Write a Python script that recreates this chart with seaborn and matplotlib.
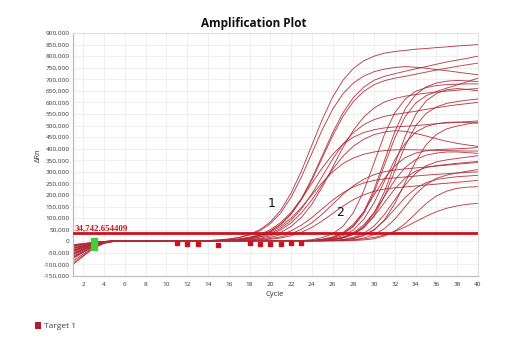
import matplotlib
matplotlib.use("Agg")
import matplotlib.pyplot as plt
import seaborn as sns
import pandas as pd
from matplotlib.ticker import FuncFormatter, FixedLocator
from matplotlib.patches import Patch

# ---------------- data (ΔRn in thousands, cycles 1..40) ----------------
cycles = list(range(1, 41))

well_01 = [-95, -60, -28, -8, 0, 2, 3, 3, 3, 3, 3, 3, 3, 3,
           6, 10, 17, 30, 50, 83, 134, 208, 304, 415, 526, 623, 696, 747, 780, 800,
           813, 820, 825, 830, 833, 837, 840, 844, 847, 850]
well_02 = [-70, -45, -20, -5, 1, 3, 3, 3, 3, 3, 3, 3, 3, 3,
           5, 9, 16, 27, 46, 76, 122, 190, 278, 380, 482, 570, 638, 684, 714, 733,
           744, 751, 755, 752, 748, 742, 737, 731, 725, 720]
well_03 = [-55, -35, -15, -4, 1, 3, 3, 3, 3, 3, 3, 3, 3, 3, 3,
           5, 9, 16, 27, 44, 74, 119, 185, 271, 370, 469, 555, 621, 666, 696,
           713, 724, 735, 745, 755, 765, 775, 783, 791, 800]
well_04 = [-40, -25, -12, -3, 1, 3, 3, 3, 3, 3, 3, 3, 3, 3, 3,
           5, 9, 15, 26, 43, 72, 116, 180, 264, 360, 456, 540, 604, 648, 677,
           694, 705, 713, 722, 731, 740, 748, 756, 763, 770]
well_05 = [-30, -20, -9, -2, 1, 3, 3, 3, 3, 3, 3, 3, 3, 3, 3, 3,
           4, 8, 13, 23, 38, 64, 103, 160, 234, 320, 406, 480, 537, 576,
           602, 617, 627, 634, 640, 645, 649, 653, 657, 660]
well_06 = [-20, -14, -6, -1, 1, 3, 3, 3, 3, 3, 3, 3, 3, 3, 3,
           4, 7, 12, 20, 34, 56, 90, 140, 205, 280, 355, 420, 470, 504, 526,
           540, 548, 555, 562, 570, 577, 584, 590, 595, 600]
well_07 = [-60, -38, -17, -4, 1, 3, 3, 3, 3, 3, 3, 3, 3, 3,
           4, 6, 11, 18, 30, 50, 81, 125, 183, 250, 317, 375, 420, 450, 470, 482,
           490, 494, 497, 500, 504, 508, 511, 514, 517, 520]
well_08 = [-75, -48, -22, -6, 1, 3, 3, 3, 3, 3, 3, 3, 3, 3, 3,
           3, 6, 10, 18, 29, 49, 79, 123, 179, 245, 311, 368, 411, 441, 461,
           472, 478, 475, 466, 455, 443, 432, 423, 416, 410]
well_09 = [-15, -10, -5, -1, 2, 2, 2, 2, 2, 2, 2, 2, 2, 2,
           3, 5, 8, 14, 24, 40, 64, 100, 146, 200, 254, 300, 336, 360, 376, 386,
           392, 395, 396, 395, 394, 393, 392, 391, 390, 390]
well_10 = [-40, -25, -12, -3, 1, 3, 3, 3, 3, 3, 3, 3, 3, 3, 3, 3,
           4, 5, 7, 12, 19, 32, 52, 80, 117, 160, 203, 240, 268, 288,
           301, 308, 313, 317, 321, 325, 329, 333, 337, 340]
well_11 = [-30, -20, -9, -2, 1, 2, 2, 2, 2, 2, 2, 2, 2, 2, 2,
           2, 3, 6, 10, 17, 28, 45, 70, 102, 140, 178, 210, 235, 252, 263,
           270, 274, 278, 282, 286, 289, 292, 295, 298, 300]
well_12 = [-20, -14, -6, -1, 1, 2, 2, 2, 2, 2, 2, 2, 2, 2, 2, 2, 2,
           3, 5, 9, 14, 24, 39, 60, 88, 120, 152, 180, 201, 216,
           226, 231, 235, 239, 243, 247, 251, 255, 259, 263]
well_13 = [-100, -65, -30, -9, 0, 3, 3, 3, 3, 3, 3, 3, 3, 3, 3, 3, 3, 3, 3, 3, 3, 3, 3, 3,
           8, 16, 33, 67, 127, 225, 350, 475, 573, 634, 667, 684, 692, 695, 693, 690]
well_14 = [-70, -45, -20, -5, 1, 3, 3, 3, 3, 3, 3, 3, 3, 3, 3, 3, 3, 3, 3, 3, 3, 3, 3,
           7, 16, 32, 65, 124, 218, 340, 462, 556, 615, 648, 664, 673, 677, 679, 680, 680]
well_15 = [-55, -35, -15, -4, 1, 2, 2, 2, 2, 2, 2, 2, 2, 2, 2, 2, 2, 2, 2, 2, 2, 2, 2, 2, 2,
           7, 15, 31, 64, 122, 215, 335, 455, 548, 606, 639, 655, 660, 656, 650]
well_16 = [-40, -25, -12, -3, 1, 3, 3, 3, 3, 3, 3, 3, 3, 3, 3, 3, 3, 3, 3, 3, 3, 3, 3, 3,
           7, 15, 31, 63, 120, 212, 330, 448, 540, 597, 629, 647, 662, 676, 690, 705]
well_17 = [-30, -20, -9, -2, 1, 3, 3, 3, 3, 3, 3, 3, 3, 3, 3, 3, 3, 3, 3, 3, 3, 3, 3, 3, 3,
           7, 14, 29, 58, 111, 196, 305, 414, 499, 552, 581, 596, 604, 610, 615]
well_18 = [-85, -55, -25, -7, 0, 2, 2, 2, 2, 2, 2, 2, 2, 2, 2, 2, 2, 2, 2, 2, 2, 2, 2, 2,
           6, 12, 24, 49, 95, 167, 260, 353, 425, 471, 496, 508, 514, 515, 513, 510]
well_19 = [-50, -32, -14, -3, 1, 3, 3, 3, 3, 3, 3, 3, 3, 3, 3, 3, 3, 3, 3, 3, 3, 3, 3, 3, 3, 3,
           6, 12, 24, 48, 93, 164, 255, 346, 417, 462, 486, 498, 507, 515]
well_20 = [-15, -10, -5, -1, 2, 2, 2, 2, 2, 2, 2, 2, 2, 2, 2, 2, 2, 2, 2, 2, 2, 2, 2,
           4, 9, 19, 38, 73, 128, 200, 272, 327, 362, 381, 391, 396, 398, 400, 402, 405]
well_21 = [-65, -42, -19, -5, 1, 3, 3, 3, 3, 3, 3, 3, 3, 3, 3, 3, 3, 3, 3, 3, 3, 3, 3, 3,
           4, 9, 18, 37, 71, 125, 195, 265, 319, 353, 372, 381, 386, 386, 383, 380]
well_22 = [-45, -28, -13, -3, 1, 3, 3, 3, 3, 3, 3, 3, 3, 3, 3, 3, 3, 3, 3, 3, 3, 3, 3, 3, 3,
           4, 8, 17, 34, 66, 116, 180, 244, 294, 326, 343, 352, 358, 364, 370]
well_23 = [-25, -16, -7, -1, 1, 2, 2, 2, 2, 2, 2, 2, 2, 2, 2, 2, 2, 2, 2, 2, 2, 2, 2, 2,
           4, 8, 16, 32, 61, 108, 168, 227, 274, 303, 319, 327, 332, 337, 341, 345]
well_24 = [-52, -33, -15, -4, 1, 3, 3, 3, 3, 3, 3, 3, 3, 3, 3, 3, 3, 3, 3, 3, 3, 3, 3, 3, 3, 3,
           3, 7, 14, 29, 55, 96, 150, 204, 245, 272, 286, 295, 303, 310]
well_25 = [-35, -22, -10, -2, 1, 2, 2, 2, 2, 2, 2, 2, 2, 2, 2, 2, 2, 2, 2, 2, 2, 2, 2, 2, 2,
           3, 6, 13, 27, 51, 90, 140, 190, 229, 253, 267, 274, 279, 282, 285]
well_26 = [-18, -12, -5, -1, 2, 2, 2, 2, 2, 2, 2, 2, 2, 2, 2, 2, 2, 2, 2, 2, 2, 2, 2, 2, 2, 2, 2,
           3, 6, 11, 23, 44, 77, 120, 163, 196, 217, 229, 234, 236]
well_27 = [-42, -27, -12, -3, 1, 2, 2, 2, 2, 2, 2, 2, 2, 2, 2, 2, 2, 2, 2, 2, 2, 2, 2, 2, 2,
           2, 4, 6, 10, 17, 27, 43, 62, 85, 108, 128, 143, 153, 160, 164]

threshold = 34742.654409
threshold_label = "34,742.654409"

baseline_start_cycle = [3]
baseline_start_value = [-13000]
baseline_end_cycles = [11, 12, 13, 15, 18, 19, 20, 21, 22, 23]
baseline_end_values = [-8000, -10000, -10000, -15000, -8000, -10000, -10000, -10000, -8000, -8000]

group_labels = ["1", "2"]
group_label_cycle = [20.1, 26.7]
group_label_value = [163000, 124000]

x_ticks = list(range(2, 41, 2))
y_ticks = list(range(-150000, 900001, 50000))

# ---------------- assemble ----------------
wells = [well_01, well_02, well_03, well_04, well_05, well_06, well_07, well_08, well_09,
         well_10, well_11, well_12, well_13, well_14, well_15, well_16, well_17, well_18,
         well_19, well_20, well_21, well_22, well_23, well_24, well_25, well_26, well_27]
rows = []
for i, w in enumerate(wells):
    for c, v in zip(cycles, w):
        rows.append({"Well": i, "Cycle": c, "dRn": v * 1000})
df = pd.DataFrame(rows)

# ---------------- draw ----------------
sns.set_theme(style="white")
plt.rcParams["font.family"] = ["Open Sans", "DejaVu Sans"]

curve_color = "#b02a35"
thr_color = "#d0101e"

W, H = 508, 343
fig = plt.figure(figsize=(W / 100, H / 100), dpi=100)
ax = fig.add_axes([73 / W, 1 - 276 / H, (478 - 73) / W, (276 - 33) / H])

ax.set_xlim(1, 40)
ax.set_ylim(-150000, 900000)
ax.xaxis.set_major_locator(FixedLocator(x_ticks))
ax.yaxis.set_major_locator(FixedLocator(y_ticks))
ax.yaxis.set_major_formatter(FuncFormatter(lambda v, p: f"{v:,.0f}"))
ax.grid(True, color="#ececec", linewidth=0.6)
ax.set_axisbelow(True)

sns.lineplot(data=df, x="Cycle", y="dRn", units="Well", estimator=None,
             color=curve_color, linewidth=0.65, alpha=0.9, ax=ax, legend=False)

ax.axhline(threshold, color=thr_color, linewidth=2.0, zorder=5)
ax.text(1.15, threshold + 1500, threshold_label, family=["Liberation Serif", "DejaVu Serif"],
        fontweight="bold", color=thr_color, fontsize=6.5, va="bottom", ha="left", zorder=6)

ax.plot(baseline_end_cycles, baseline_end_values, linestyle="none", marker="s",
        markersize=2.2, color=thr_color, zorder=6)
rect_marker = [(-0.5, -1.0), (0.5, -1.0), (0.5, 1.0), (-0.5, 1.0), (-0.5, -1.0)]
ax.plot(baseline_start_cycle, baseline_start_value, linestyle="none", marker=rect_marker,
        markersize=9, color="#3bd23b", zorder=7)

for t, cx, cy in zip(group_labels, group_label_cycle, group_label_value):
    ax.text(cx, cy, t, fontsize=9, color="#111111", ha="center", va="center",
            family=["DejaVu Sans"], zorder=8)

ax.set_xlabel("")
ax.set_ylabel("")
ax.tick_params(axis="both", length=0, labelsize=4.6, colors="#333333")
ax.tick_params(axis="y", pad=2.5)
ax.tick_params(axis="x", pad=4)
for side in ["left", "bottom"]:
    ax.spines[side].set_color("#bdbdbd")
    ax.spines[side].set_linewidth(0.9)
for side in ["top", "right"]:
    ax.spines[side].set_color("#e0e0e0")
    ax.spines[side].set_linewidth(0.8)

fig.text(254 / W, 1 - 23 / H, "Amplification Plot", ha="center", va="center",
         fontsize=8.5, fontweight="bold", color="#111111")
fig.text(38 / W, 1 - 155 / H, "ΔRn", rotation=90, ha="center", va="center",
         fontsize=5.5, color="#333333")
fig.text(275 / W, 1 - 294 / H, "Cycle", ha="center", va="center",
         fontsize=5.5, color="#333333")

fig.legend(handles=[Patch(facecolor="#b01c2e", edgecolor="none", label="Target 1")],
           loc="center left", bbox_to_anchor=(27 / W, 1 - 326 / H), frameon=False,
           fontsize=6, handlelength=0.8, handleheight=0.9, handletextpad=0.4,
           labelcolor="#444444")

fig.savefig("out.png", dpi=100)
